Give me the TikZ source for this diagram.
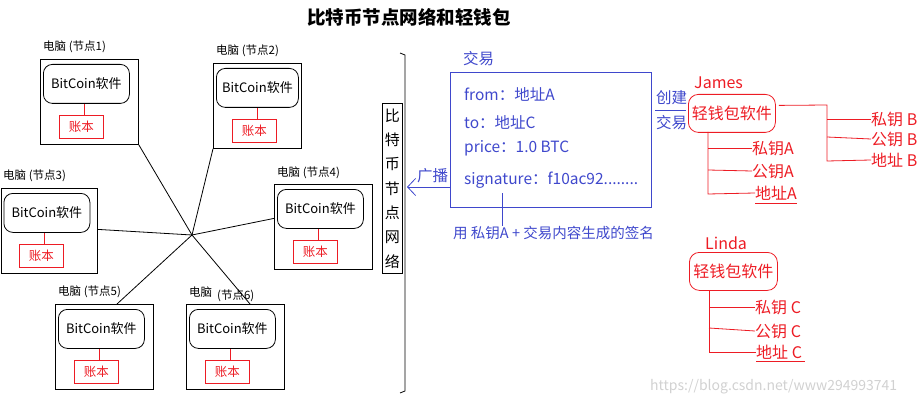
\documentclass[tikz,border=0pt]{standalone}
\usepackage{fontspec}
\setmainfont{Noto Sans CJK SC}
\usetikzlibrary{arrows.meta}
\definecolor{myred}{RGB}{237,28,36}
\definecolor{myblue}{RGB}{63,72,204}
\begin{document}
\begin{tikzpicture}[x=1pt,y=-1pt,
  pcbox/.style={draw, line width=0.8pt, anchor=north west, inner sep=0pt, minimum width=98pt, minimum height=85pt},
  swbox/.style={draw, line width=0.8pt, rounded corners=9pt, anchor=north west, inner sep=0pt, minimum height=39pt, font=\fontsize{13}{15}\selectfont},
  ledger/.style={draw=myred, text=myred, line width=0.8pt, anchor=north west, inner sep=0pt, minimum width=44pt, minimum height=23pt, font=\fontsize{12.5}{14}\selectfont},
  pclabel/.style={anchor=west, inner sep=0pt, font=\fontsize{11.5}{13}\selectfont},
  link/.style={draw, line width=0.8pt},
  rlink/.style={draw=myred, line width=0.8pt},
  blink/.style={draw=myblue, line width=0.8pt},
  btext/.style={text=myblue, anchor=west, inner sep=0pt, font=\fontsize{15.5}{18}\selectfont},
  rtext/.style={text=myred, anchor=west, inner sep=0pt, font=\fontsize{16}{19}\selectfont},
  wallet/.style={draw=myred, text=myred, line width=0.8pt, rounded corners=10pt, anchor=north west, inner sep=0pt, minimum height=38pt, font=\fontsize{16}{19}\selectfont}
]
\useasboundingbox (0,0) rectangle (920,406);

% title
\node[font=\fontsize{18.5}{22}\selectfont\bfseries, anchor=west, inner sep=0pt] (title) at (307,17) {比特币节点网络和轻钱包};

% computers
\foreach \n/\ox/\oy/\ow/\iw/\gx in {1/40/59/98/86/59, 2/213/63/88/82/232, 3/0.5/188/96.5/86/19, 4/274/184/98/86/293, 5/55/304/98/86/74, 6/186/304/98/86/205} {
  \node[pcbox, minimum width=\ow pt] (pc\n) at (\ox,\oy) {};
  \node[swbox, minimum width=\iw pt] (sw\n) at (\ox+3,\oy+5) {BitCoin软件};
  \node[ledger] (lg\n) at (\gx,\oy+56) {账本};
  \draw[rlink] ([xshift=2.5pt]lg\n.north) -- ([xshift=2.5pt]lg\n.north |- sw\n.south);
}
\node[pclabel] (l1) at (43,47) {电脑 (节点1)};
\node[pclabel] (l2) at (216,51) {电脑 (节点2)};
\node[pclabel] (l3) at (3,176) {电脑 (节点3)};
\node[pclabel] (l4) at (277,173) {电脑 (节点4)};
\node[pclabel] (l5) at (58,292) {电脑 (节点5)};
\node[pclabel] (l6a) at (189,292) {电脑};
\node[pclabel] (l6b) at (217,296) {(节点6)};

% star network
\coordinate (hub) at (192,235);
\draw[link] (hub) -- (pc1.south east);
\draw[link] (hub) -- (pc2.south west);
\draw[link] (hub) -- ([yshift=1.5pt]pc3.east);
\draw[link] (hub) -- ([yshift=8.5pt]pc4.west);
\draw[link] (hub) -- ([xshift=62pt]pc5.north west);
\draw[link] (hub) -- ([xshift=64pt]pc6.north west);

% network label and bracket
\node[draw, line width=0.8pt, anchor=north west, minimum width=20pt, minimum height=170pt, inner sep=0pt, align=center, font=\fontsize{15}{24.3}\selectfont] (net) at (382,103) {比\\特\\币\\节\\点\\网\\络};
\draw[line width=0.8pt] (400,53) -- (405,55) -- (405,391) -- (400,393);

% transaction
\node[draw=myblue, line width=0.8pt, anchor=north west, minimum width=201pt, minimum height=135pt, inner sep=0pt] (tx) at (450,72) {};
\node[btext] (txl) at (463,59) {交易};
\node[btext] (from) at (464,94) {from：地址A};
\node[btext] (to) at (464,122) {to：地址C};
\node[btext] (price) at (464,148) {price：1.0 BTC};
\node[btext] (sig) at (464,180) {signature：f10ac92........};
\node[btext, font=\fontsize{14.5}{17}\selectfont] (cap) at (453,233) {用 私钥A + 交易内容生成的签名};
\coordinate (sigpt) at (502,193);
\draw[blink] (sigpt) -- (sigpt |- cap.north);

% broadcast arrow
\coordinate (bc) at (407,187);
\draw[blink, -{Straight Barb[length=8pt,width=17pt]}] (tx.west |- bc) -- (bc);
\node[btext] (bcl) at (417,176) {广播};

% create transaction
\node[btext] (cj) at (656,98) {创建};
\node[btext] (jy) at (656,123) {交易};
\draw[blink] (655,110) -- (686,110);

% James
\node[rtext] (james) at (694,83) {James};
\node[wallet, minimum width=87pt] (jw) at (688,94) {轻钱包软件};
\node[rtext] (skB) at (871,119) {私钥 B};
\node[rtext] (pkB) at (871,139) {公钥 B};
\node[rtext] (adB) at (871,160) {地址 B};
\draw[rlink] ([xshift=3pt,yshift=8pt]jw.east) -- (827,105) -- (827,161) -- (adB.west);
\draw[rlink] (827,119) -- (skB.west);
\draw[rlink] (827,137) -- (pkB.west);
\node[rtext] (skA) at (752,148) {私钥A};
\node[rtext] (pkA) at (752,171) {公钥A};
\node[rtext] (adA) at (755,193) {地址A};
\draw[rlink] (708,132) -- (708,194) -- (adA.west);
\draw[rlink] (708,148) -- (skA.west);
\draw[rlink] (708,170) -- (pkA.west);
\draw[rlink] (755,203) -- (797,203);

% Linda
\node[rtext] (linda) at (705,243) {Linda};
\node[wallet, minimum width=88pt] (lw) at (689,252) {轻钱包软件};
\node[rtext] (skC) at (755,307) {私钥 C};
\node[rtext] (pkC) at (755,331) {公钥 C};
\node[rtext] (adC) at (756,352) {地址 C};
\draw[rlink] (709,290) -- (709,352) -- (adC.west);
\draw[rlink] (709,307) -- (skC.west);
\draw[rlink] (709,328) -- (pkC.west);
\draw[rlink] (756,361) -- (805,361);

% watermark
\node[anchor=west, inner sep=0pt, text=black!18, font=\fontsize{14}{16}\selectfont] (wm) at (650,387) {https://blog.csdn.net/www294993741};
\end{tikzpicture}
\end{document}
